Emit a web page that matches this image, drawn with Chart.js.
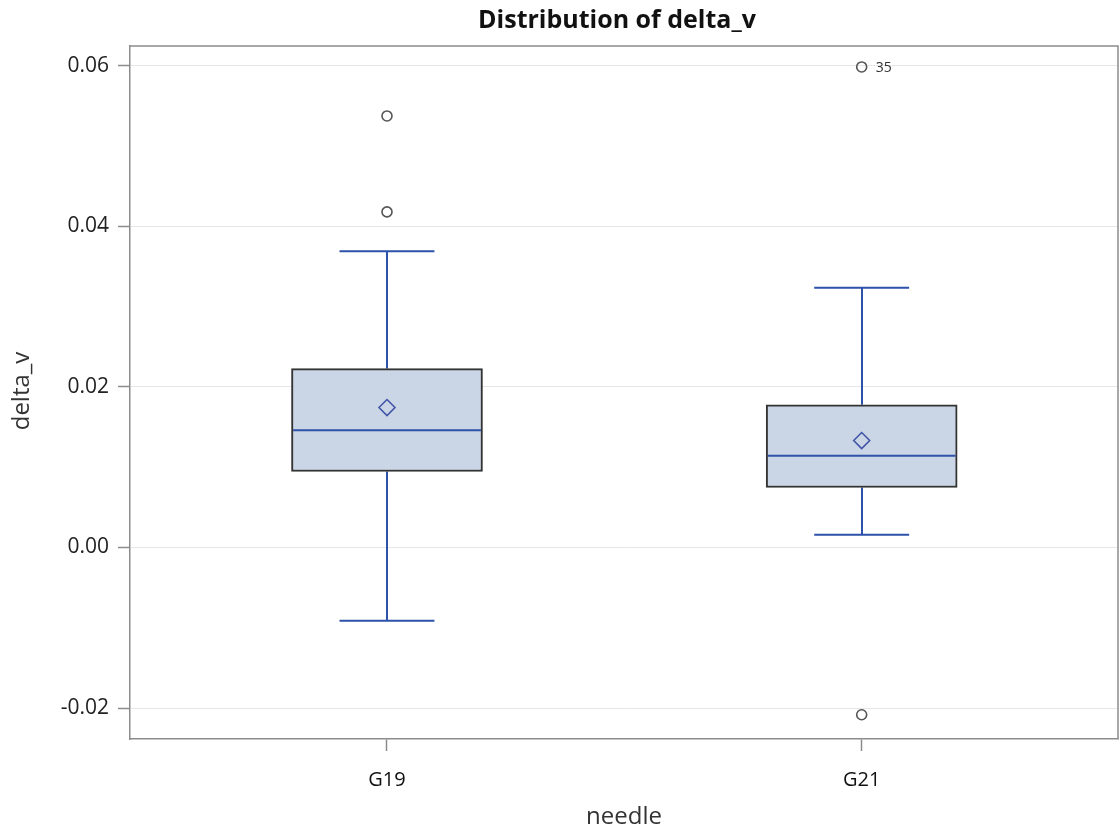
<!DOCTYPE html>
<html>
<head>
<meta charset="utf-8">
<script src="https://cdn.jsdelivr.net/npm/chart.js@4/dist/chart.umd.min.js"></script>
<style>
  html, body { margin: 0; padding: 0; background: #ffffff; }
  #wrap { width: 1119px; height: 832px; position: relative; }
</style>
</head>
<body>
<div id="wrap"><canvas id="c" width="1119" height="832"></canvas></div>
<script>
// Box plot summary of delta_v by needle gauge
const groups = ['G19', 'G21'];
const q1 = [0.00946, 0.00747];
const medians = [0.01461, 0.01141];
const q3 = [0.02228, 0.01776];
const whiskerLow = [-0.00913, 0.00158];
const whiskerHigh = [0.0369, 0.03236];
const means = [0.01743, 0.01332];
const outlierValues = [[0.05374, 0.04179], [0.05984, -0.02083]];
const outlierIds = [['', ''], ['35', '']];
const yTicks = [-0.02, 0.00, 0.02, 0.04, 0.06];

const BLUE = '#2d52aa';
const FONT = "'Open Sans', 'Noto Sans', sans-serif";

const boxData = groups.map((g, i) => ({ x: i, y: [q1[i], q3[i]] }));
const meanData = groups.map((g, i) => ({ x: i, y: means[i] }));
const outlierData = [];
const outlierLabelData = [];
outlierValues.forEach((vals, i) => vals.forEach((v, j) => {
  outlierData.push({ x: i, y: v });
  outlierLabelData.push({ x: i, y: v, id: outlierIds[i][j] });
}));

const boxPlotParts = {
  id: 'boxPlotParts',
  beforeDatasetsDraw(chart) {
    const { ctx, scales: { x, y } } = chart;
    ctx.save();
    ctx.strokeStyle = BLUE;
    ctx.lineWidth = 2;
    groups.forEach((g, i) => {
      const cx = Math.round(x.getPixelForValue(i));
      const capL = x.getPixelForValue(i - 0.1);
      const capR = x.getPixelForValue(i + 0.1);
      const yHi = y.getPixelForValue(whiskerHigh[i]);
      const yLo = y.getPixelForValue(whiskerLow[i]);
      ctx.beginPath();
      ctx.moveTo(cx, y.getPixelForValue(q3[i]));
      ctx.lineTo(cx, yHi);
      ctx.moveTo(cx, y.getPixelForValue(q1[i]));
      ctx.lineTo(cx, yLo);
      ctx.moveTo(capL, yHi);
      ctx.lineTo(capR, yHi);
      ctx.moveTo(capL, yLo);
      ctx.lineTo(capR, yLo);
      ctx.stroke();
    });
    ctx.restore();
  },
  afterDatasetsDraw(chart) {
    const { ctx, scales: { x, y } } = chart;
    ctx.save();
    ctx.strokeStyle = BLUE;
    ctx.lineWidth = 2;
    groups.forEach((g, i) => {
      const l = x.getPixelForValue(i - 0.2);
      const r = x.getPixelForValue(i + 0.2);
      const ym = y.getPixelForValue(medians[i]);
      ctx.beginPath();
      ctx.moveTo(l + 1, ym);
      ctx.lineTo(r - 1, ym);
      ctx.stroke();
    });
    // outlier ids
    ctx.fillStyle = '#333333';
    ctx.font = '14px ' + FONT;
    ctx.textAlign = 'left';
    ctx.textBaseline = 'middle';
    outlierLabelData.forEach(p => {
      if (!p.id) return;
      ctx.fillText(p.id, x.getPixelForValue(p.x) + 14, y.getPixelForValue(p.y) + 1);
    });
    ctx.restore();
  },
  afterDraw(chart) {
    const { ctx, chartArea: a } = chart;
    ctx.save();
    // frame top and right edges
    ctx.strokeStyle = '#8c8c8c';
    ctx.lineWidth = 1.5;
    ctx.beginPath();
    ctx.moveTo(a.left, a.top);
    ctx.lineTo(a.right, a.top);
    ctx.lineTo(a.right, a.bottom);
    ctx.stroke();
    // title
    ctx.fillStyle = '#111111';
    ctx.font = 'bold 25px ' + FONT;
    ctx.textAlign = 'center';
    ctx.textBaseline = 'alphabetic';
    ctx.fillText('Distribution of delta_v', 617, 28);
    // y axis title
    ctx.fillStyle = '#333333';
    ctx.font = '24px ' + FONT;
    ctx.translate(29, 391);
    ctx.rotate(-Math.PI / 2);
    ctx.textAlign = 'center';
    ctx.textBaseline = 'alphabetic';
    ctx.fillText('delta_v', 0, 0);
    ctx.restore();
  }
};

new Chart(document.getElementById('c'), {
  type: 'bar',
  data: {
    datasets: [
      {
        type: 'scatter',
        label: 'Mean',
        data: meanData,
        pointStyle: 'rectRot',
        pointRadius: 8,
        pointHoverRadius: 8,
        borderColor: '#4155a8',
        backgroundColor: 'rgba(0,0,0,0)',
        borderWidth: 1.6,
        order: 0
      },
      {
        type: 'scatter',
        label: 'Outliers',
        data: outlierData,
        pointStyle: 'circle',
        pointRadius: 5,
        pointHoverRadius: 5,
        borderColor: '#555555',
        backgroundColor: 'rgba(255,255,255,0)',
        borderWidth: 1.6,
        order: 0
      },
      {
        type: 'bar',
        label: 'IQR',
        data: boxData,
        backgroundColor: '#cad5e5',
        borderColor: '#333333',
        borderWidth: 2,
        borderSkipped: false,
        barThickness: 191,
        order: 1
      }
    ]
  },
  options: {
    responsive: false,
    animation: false,
    events: [],
    layout: { autoPadding: false, padding: { top: 46, right: 1, left: 0, bottom: 0 } },
    plugins: {
      legend: { display: false },
      tooltip: { enabled: false },
      title: { display: false }
    },
    scales: {
      x: {
        type: 'linear',
        min: -0.5414,
        max: 1.540,
        offset: false,
        afterFit(scale) {
          scale.height = 93;
          scale.paddingLeft = 0;
          scale.paddingRight = 0;
        },
        afterBuildTicks(scale) { scale.ticks = groups.map((g, i) => ({ value: i })); },
        ticks: {
          callback: v => groups[v],
          color: '#111111',
          font: { family: FONT, size: 20 },
          padding: 17,
          maxRotation: 0
        },
        grid: {
          offset: false,
          drawOnChartArea: false,
          drawTicks: true,
          tickLength: 12,
          tickColor: '#8c8c8c',
          tickWidth: 1.5
        },
        border: { display: true, color: '#8c8c8c', width: 1.5 },
        title: {
          display: true,
          text: 'needle',
          color: '#333333',
          font: { family: FONT, size: 24 },
          padding: { top: 0, bottom: 0 }
        }
      },
      y: {
        type: 'linear',
        min: -0.02385,
        max: 0.06245,
        afterFit(scale) { scale.width = 130; },
        afterBuildTicks(scale) { scale.ticks = yTicks.map(v => ({ value: v })); },
        ticks: {
          callback: v => v.toFixed(2),
          color: '#222222',
          font: { family: FONT, size: 21 },
          padding: 9
        },
        grid: {
          color: '#e6e6e6',
          lineWidth: 1,
          drawTicks: true,
          tickLength: 12,
          tickColor: '#8c8c8c',
          tickWidth: 1.5
        },
        border: { display: true, color: '#8c8c8c', width: 1.5 }
      }
    }
  },
  plugins: [boxPlotParts]
});
</script>
</body>
</html>
